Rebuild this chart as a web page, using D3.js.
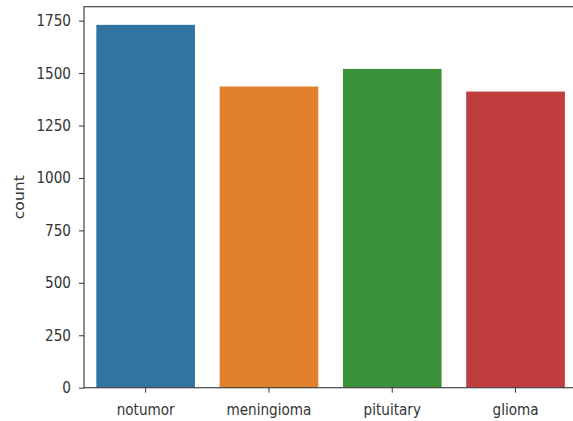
<!DOCTYPE html>
<html>
<head>
<meta charset="utf-8">
<script src="https://cdn.jsdelivr.net/npm/d3@7"></script>
<style>
  html, body { margin: 0; padding: 0; background: #fff; }
  svg { display: block; }
  text { font-family: "DejaVu Sans", sans-serif; fill: #333; }
</style>
</head>
<body>
<svg id="chart" width="573" height="421"></svg>
<script>
// Class counts per tumour type
const categories = ["notumor", "meningioma", "pituitary", "glioma"];
const counts = [1730, 1436, 1520, 1412];
const barColors = ["#3274a1", "#e1812c", "#3a923a", "#c03d3e"];
const yTicks = [0, 250, 500, 750, 1000, 1250, 1500, 1750];
const yLabel = "count";

const svg = d3.select("#chart");
const plotLeft = 84, plotTop = 6.7, plotBottom = 387.7;
const bandStep = 123.3;
const plotRight = plotLeft + bandStep * categories.length;
const textStretch = 1.15; // labels render slightly taller than wide

const x = d3.scaleBand()
  .domain(categories)
  .range([plotLeft, plotRight])
  .paddingInner(0.2)
  .paddingOuter(0.1);

const y = d3.scaleLinear()
  .domain([0, d3.max(counts) * 1.05])
  .range([plotBottom, plotTop]);

// bars
svg.append("g")
  .selectAll("rect")
  .data(categories)
  .join("rect")
  .attr("x", d => x(d))
  .attr("width", x.bandwidth())
  .attr("y", (d, i) => y(counts[i]))
  .attr("height", (d, i) => plotBottom - y(counts[i]))
  .attr("fill", (d, i) => barColors[i]);

// y axis
const yAxis = svg.append("g")
  .attr("transform", `translate(${plotLeft},0)`)
  .call(d3.axisLeft(y).tickValues(yTicks).tickSize(5).tickPadding(8).tickFormat(d3.format("d")));
yAxis.select(".domain").remove();
yAxis.selectAll("line").attr("stroke", "#333");
yAxis.selectAll("text")
  .style("font-size", "13.6px")
  .style("font-family", "DejaVu Sans, sans-serif")
  .attr("fill", "#333")
  .attr("transform", `scale(1,${textStretch})`);

// x axis
const xAxis = svg.append("g")
  .attr("transform", `translate(0,${plotBottom})`)
  .call(d3.axisBottom(x).tickSize(5).tickPadding(9));
xAxis.select(".domain").remove();
xAxis.selectAll("line").attr("stroke", "#333");
xAxis.selectAll("text")
  .style("font-size", "13.6px")
  .style("font-family", "DejaVu Sans, sans-serif")
  .attr("fill", "#333")
  .attr("transform", `scale(1,${textStretch})`);

// frame
svg.append("rect")
  .attr("x", plotLeft)
  .attr("y", plotTop)
  .attr("width", plotRight - plotLeft)
  .attr("height", plotBottom - plotTop)
  .attr("fill", "none")
  .attr("stroke", "#444")
  .attr("stroke-width", 1.2);

// y axis title
svg.append("text")
  .attr("transform", `translate(24,${(plotTop + plotBottom) / 2}) rotate(-90) scale(${textStretch},1)`)
  .attr("text-anchor", "middle")
  .style("font-size", "13.6px")
  .text(yLabel);
</script>
</body>
</html>
